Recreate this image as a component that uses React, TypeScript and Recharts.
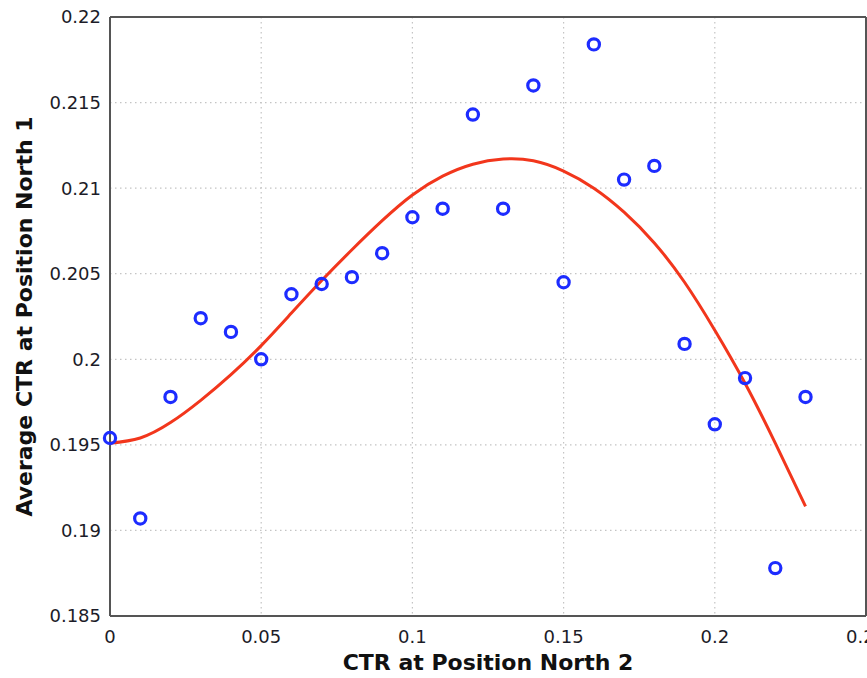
import React from "react";
import {
  ComposedChart,
  Line,
  Scatter,
  XAxis,
  YAxis,
  CartesianGrid,
  Label,
} from "recharts";

const positionCtr = [0, 0.01, 0.02, 0.03, 0.04, 0.05, 0.06, 0.07, 0.08, 0.09, 0.1, 0.11, 0.12, 0.13, 0.14, 0.15, 0.16, 0.17, 0.18, 0.19, 0.2, 0.21, 0.22, 0.23];
const averageCtr = [0.1954, 0.1907, 0.1978, 0.2024, 0.2016, 0.2, 0.2038, 0.2044, 0.2048, 0.2062, 0.2083, 0.2088, 0.2143, 0.2088, 0.216, 0.2045, 0.2184, 0.2105, 0.2113, 0.2009, 0.1962, 0.1989, 0.1878, 0.1978];
const fittedCtr = [0.1951, 0.1954, 0.1963, 0.1976, 0.1991, 0.2008, 0.2027, 0.2046, 0.2064, 0.2081, 0.2096, 0.2107, 0.2114, 0.2117, 0.2116, 0.211, 0.21, 0.2086, 0.2068, 0.2045, 0.2017, 0.1986, 0.1951, 0.1914];

const xTicks = [0, 0.05, 0.1, 0.15, 0.2, 0.25];
const xTickLabels = ["0", "0.05", "0.1", "0.15", "0.2", "0.25"];
const yTicks = [0.185, 0.19, 0.195, 0.2, 0.205, 0.21, 0.215, 0.22];
const yTickLabels = ["0.185", "0.19", "0.195", "0.2", "0.205", "0.21", "0.215", "0.22"];

const xTitle = "CTR at Position North 2";
const yTitle = "Average CTR at Position North 1";

const data = positionCtr.map((x, i) => ({ x, ctr: averageCtr[i], fit: fittedCtr[i] }));

const FONT = "'DejaVu Sans', 'Liberation Sans', sans-serif";
const AXIS = "#555555";
const tickStyle = { fontFamily: FONT, fontSize: 18, fill: "#1c1c28" };

const Ring = (props: any) => {
  const { cx, cy } = props;
  if (cx == null || cy == null) return <g />;
  return <circle cx={cx} cy={cy} r={5.6} fill="none" stroke="#1d2cff" strokeWidth={3.2} />;
};

export default function App() {
  return (
    <div style={{ position: "absolute", left: 0, top: 0, background: "#fff" }}>
      <ComposedChart
        width={867}
        height={678}
        data={data}
        margin={{ top: 17, right: 1, bottom: 0, left: 0 }}
      >
        <CartesianGrid
          xAxisId="x"
          yAxisId="y"
          stroke="#c4c4c4"
          strokeWidth={1.2}
          strokeDasharray="1.5 3.5"
        />
        <XAxis
          xAxisId="x"
          dataKey="x"
          type="number"
          domain={[0, 0.25]}
          ticks={xTicks}
          tickFormatter={(v: number) => xTickLabels[xTicks.indexOf(v)] ?? String(v)}
          height={62}
          tickSize={0}
          tickMargin={14}
          tickLine={false}
          tick={tickStyle}
          axisLine={{ stroke: AXIS, strokeWidth: 2 }}
          interval={0}
        >
          <Label
            content={(p: any) => {
              const vb = p.viewBox;
              return (
                <text
                  x={vb.x + vb.width / 2}
                  y={vb.y + vb.height - 8}
                  textAnchor="middle"
                  fontFamily={FONT}
                  fontWeight="bold"
                  fontSize={22}
                  fill="#111"
                >
                  {xTitle}
                </text>
              );
            }}
          />
        </XAxis>
        <XAxis
          xAxisId="xbm"
          type="number"
          orientation="bottom"
          mirror
          domain={[0, 0.25]}
          ticks={xTicks}
          tick={false}
          tickSize={7}
          tickLine={{ stroke: AXIS, strokeWidth: 1.5 }}
          axisLine={false}
          interval={0}
        />
        <XAxis
          xAxisId="xt"
          type="number"
          orientation="top"
          mirror
          domain={[0, 0.25]}
          ticks={xTicks}
          tick={false}
          tickSize={7}
          tickLine={{ stroke: AXIS, strokeWidth: 1.5 }}
          axisLine={{ stroke: AXIS, strokeWidth: 2 }}
          interval={0}
        />
        <YAxis
          yAxisId="y"
          type="number"
          domain={[0.185, 0.22]}
          ticks={yTicks}
          tickFormatter={(v: number) => yTickLabels[yTicks.indexOf(v)] ?? String(v)}
          width={110}
          tickSize={0}
          tickMargin={9}
          tickLine={false}
          tick={tickStyle}
          axisLine={{ stroke: AXIS, strokeWidth: 2 }}
          interval={0}
        >
          <Label
            content={(p: any) => {
              const vb = p.viewBox;
              const cx = 24;
              const cy = vb.y + vb.height / 2;
              return (
                <text
                  x={cx}
                  y={cy}
                  dy="0.36em"
                  transform={`rotate(-90, ${cx}, ${cy})`}
                  textAnchor="middle"
                  fontFamily={FONT}
                  fontWeight="bold"
                  fontSize={22}
                  fill="#111"
                >
                  {yTitle}
                </text>
              );
            }}
          />
        </YAxis>
        <YAxis
          yAxisId="ylm"
          type="number"
          orientation="left"
          mirror
          domain={[0.185, 0.22]}
          ticks={yTicks}
          tick={false}
          tickSize={7}
          tickLine={{ stroke: AXIS, strokeWidth: 1.5 }}
          axisLine={false}
          interval={0}
        />
        <YAxis
          yAxisId="yr"
          type="number"
          orientation="right"
          mirror
          domain={[0.185, 0.22]}
          ticks={yTicks}
          tick={false}
          tickSize={7}
          tickLine={{ stroke: AXIS, strokeWidth: 1.5 }}
          axisLine={{ stroke: AXIS, strokeWidth: 2 }}
          interval={0}
        />
        <Scatter
          xAxisId="x"
          yAxisId="y"
          dataKey="ctr"
          shape={Ring}
          isAnimationActive={false}
        />
        <Line
          xAxisId="x"
          yAxisId="y"
          dataKey="fit"
          type="natural"
          stroke="#f2361c"
          strokeWidth={3}
          dot={false}
          activeDot={false}
          isAnimationActive={false}
        />
      </ComposedChart>
    </div>
  );
}
